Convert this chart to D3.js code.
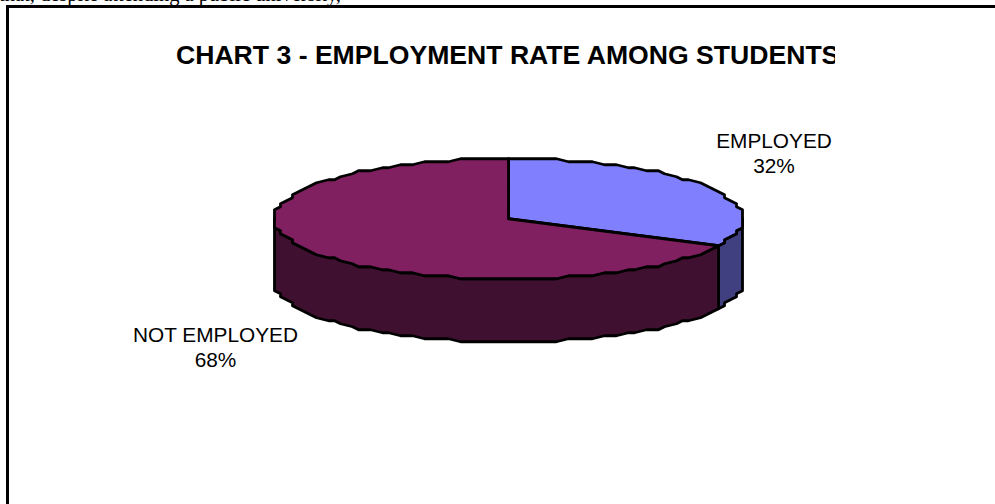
<!DOCTYPE html>
<html>
<head>
<meta charset="utf-8">
<script src="https://cdn.jsdelivr.net/npm/d3@7/dist/d3.min.js"></script>
<style>
  html, body { margin: 0; padding: 0; background: #fff; overflow: hidden; }
  svg { display: block; }
</style>
</head>
<body>
<script>
// Employment split among surveyed students
const categories = ["EMPLOYED", "NOT EMPLOYED"];
const shares = [32, 68];
const topColors = ["#8080ff", "#802060"];
const wallColors = ["#404080", "#401030"];
const chartTitle = "CHART 3 - EMPLOYMENT RATE AMONG STUDENTS";
const bodyLine = "that, despite attending a public university,";

const width = 995, height = 504;
const svg = d3.select("body").append("svg")
  .attr("width", width).attr("height", height);

// Line of running body text above the chart frame
svg.append("text")
  .attr("x", -1).attr("y", 1)
  .attr("font-family", "'Liberation Serif', serif")
  .attr("font-size", 20.5)
  .attr("fill", "#000")
  .text(bodyLine);

// Frame: only the top and left edges fall inside the page
svg.append("path")
  .attr("d", d3.line()([[995, 6.5], [7.5, 6.5], [7.5, 504]]))
  .attr("fill", "none").attr("stroke", "#000").attr("stroke-width", 3);

// Title, cut off by its text box on the right
svg.append("clipPath").attr("id", "title-box")
  .append("rect").attr("x", 100).attr("y", 30).attr("width", 735).attr("height", 60);
svg.append("text")
  .attr("clip-path", "url(#title-box)")
  .attr("x", 176).attr("y", 64)
  .attr("font-family", "'Liberation Sans', Arial, sans-serif")
  .attr("font-size", 26.6)
  .attr("font-weight", 700)
  .attr("fill", "#000")
  .text(chartTitle);

// Tilted disc geometry
const xRim = d3.scaleLinear().domain([-1, 1]).range([274, 743]);
const yRim = d3.scaleLinear().domain([-1, 1]).range([158.5, 279]);
const depth = 63;
const gridX = 6, gridY = 3;
const angleStep = Math.PI / 60;

// Vertices sit on a coarse device grid, which gives the rim its stepped outline
function rimPoint(angle, drop = 0) {
  const cx = xRim(0), cy = yRim(0);
  const x = xRim(Math.sin(angle)), y = yRim(-Math.cos(angle));
  return [
    cx + Math.round((x - cx) / gridX) * gridX,
    cy + Math.round((y - cy) / gridY) * gridY + drop
  ];
}

// Every arc samples the same angular lattice so adjoining faces share their rim
function arcPoints(a0, a1, drop = 0) {
  const inner = d3.range(Math.floor(a0 / angleStep) + 1, Math.ceil(a1 / angleStep))
    .map(k => k * angleStep);
  return [a0, ...inner, a1].map(a => rimPoint(a, drop));
}

const slices = d3.pie().sort(null).value(d => d)(shares);
const line = d3.line();

const g = svg.append("g").attr("stroke", "#000")
  .attr("stroke-width", 2.8).attr("stroke-linejoin", "round");

// Outer walls: only the front half of the disc is visible
g.selectAll("path.wall").data(slices).join("path")
  .attr("class", "wall")
  .attr("fill", (d, i) => wallColors[i])
  .attr("d", d => {
    const a0 = Math.max(d.startAngle, Math.PI / 2);
    const a1 = Math.min(d.endAngle, 3 * Math.PI / 2);
    return line([...arcPoints(a0, a1), ...arcPoints(a0, a1, depth).reverse()]) + "Z";
  });

// Top faces
g.selectAll("path.top").data(slices).join("path")
  .attr("class", "top")
  .attr("fill", (d, i) => topColors[i])
  .attr("d", d => line([[xRim(0), yRim(0)], ...arcPoints(d.startAngle, d.endAngle)]) + "Z");

// Category and percentage labels
const labelPos = [{ x: 774, y: 148 }, { x: 215.5, y: 342 }];
const labels = svg.append("g")
  .attr("font-family", "'Liberation Sans', Arial, sans-serif")
  .attr("font-size", 20.8)
  .attr("fill", "#000")
  .attr("text-anchor", "middle");
categories.forEach((name, i) => {
  labels.append("text").attr("x", labelPos[i].x).attr("y", labelPos[i].y).text(name);
  labels.append("text").attr("x", labelPos[i].x).attr("y", labelPos[i].y + 25).text(shares[i] + "%");
});
</script>
</body>
</html>
